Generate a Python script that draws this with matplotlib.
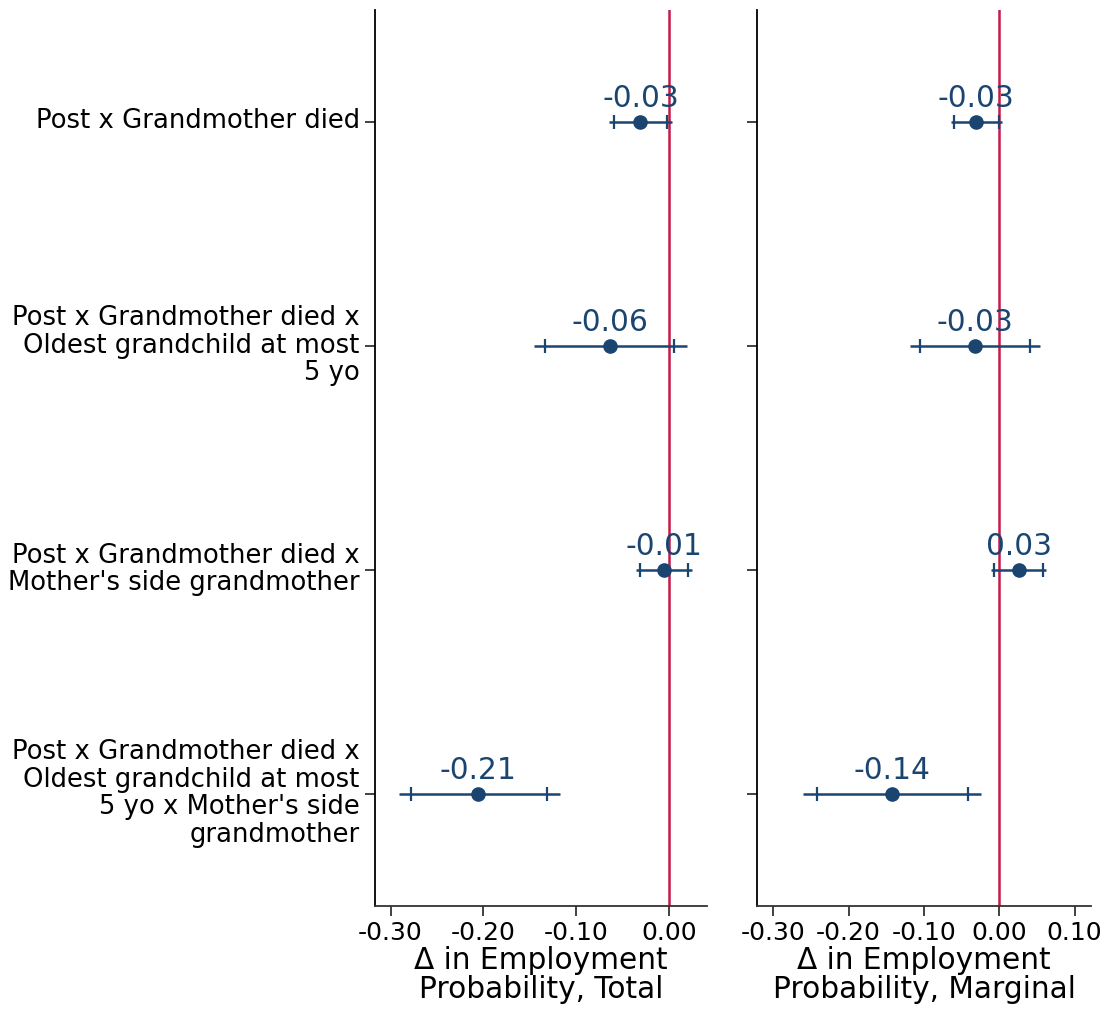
import matplotlib
matplotlib.use("Agg")
import matplotlib.pyplot as plt
from matplotlib.transforms import ScaledTranslation
import numpy as np

labels = [
    "Post x Grandmother died",
    "Post x Grandmother died x\nOldest grandchild at most\n5 yo",
    "Post x Grandmother died x\nMother's side grandmother",
    "Post x Grandmother died x\nOldest grandchild at most\n5 yo x Mother's side\ngrandmother",
]

# Total effect
total_coef = [-0.031, -0.0635, -0.006, -0.206]
total_lo95 = [-0.0645, -0.146, -0.0355, -0.291]
total_hi95 = [0.003, 0.0188, 0.024, -0.118]
total_lo90 = [-0.059, -0.1337, -0.0316, -0.278]
total_hi90 = [-0.0025, 0.0053, 0.0205, -0.132]
total_text = ["-0.03", "-0.06", "-0.01", "-0.21"]

# Marginal effect
marg_coef = [-0.031, -0.0318, 0.0256, -0.142]
marg_lo95 = [-0.064, -0.118, -0.011, -0.26]
marg_hi95 = [0.0035, 0.054, 0.0623, -0.0242]
marg_lo90 = [-0.0605, -0.1046, -0.0066, -0.2415]
marg_hi90 = [-0.001, 0.041, 0.058, -0.042]
marg_text = ["-0.03", "-0.03", "0.03", "-0.14"]

total_ticks = [-0.30, -0.20, -0.10, 0.00]
marg_ticks = [-0.30, -0.20, -0.10, 0.00, 0.10]

navy = "#1a4570"
red = "#c8194a"

fig = plt.figure(figsize=(11.09, 10.09), dpi=100)
ax1 = fig.add_axes([375 / 1109, 1 - 905.5 / 1009, (707 - 375) / 1109, (905.5 - 10) / 1009])
ax2 = fig.add_axes([757.3 / 1109, 1 - 905.5 / 1009, (1090.7 - 757.3) / 1109, (905.5 - 10) / 1009])

ypos = np.arange(1, len(labels) + 1)


def draw(ax, coef, lo95, hi95, lo90, hi90, texts, ticks, xlim):
    ax.axvline(0, color=red, lw=1.8, zorder=1)
    for y, c, l5, h5, l9, h9, t in zip(ypos, coef, lo95, hi95, lo90, hi90, texts):
        ax.plot([l5, h5], [y, y], color=navy, lw=1.8, zorder=2, solid_capstyle="butt")
        ax.plot([l9, h9], [y, y], ls="none", marker="|", ms=10, mew=1.6, color=navy, zorder=3)
        ax.plot([c], [y], marker="o", ms=9.5, color=navy, zorder=4)
        ax.annotate(t, (c, y), xytext=(0, 10.5), textcoords="offset points",
                    ha="center", va="baseline", fontsize=21.3, color=navy)
    ax.set_xlim(*xlim)
    ax.set_ylim(4.5, 0.5)
    ax.set_xticks(ticks)
    ax.set_xticklabels([f"{v:.2f}" for v in ticks], fontsize=18)
    ax.set_yticks(ypos)
    for s in ["top", "right"]:
        ax.spines[s].set_visible(False)
    ax.spines["left"].set_linewidth(1.3)
    ax.spines["left"].set_color("black")
    ax.spines["bottom"].set_linewidth(1.3)
    ax.spines["bottom"].set_color("#333333")
    ax.tick_params(axis="x", length=7, width=1.3, color="#333333", pad=4)
    ax.tick_params(axis="y", length=7, width=1.3, color="#333333", pad=4)


draw(ax1, total_coef, total_lo95, total_hi95, total_lo90, total_hi90, total_text,
     total_ticks, (-0.3168, 0.0406))
draw(ax2, marg_coef, marg_lo95, marg_hi95, marg_lo90, marg_hi90, marg_text,
     marg_ticks, (-0.3212, 0.1213))

ax1.set_yticklabels(labels, fontsize=18.6, linespacing=1.08)
shift = ScaledTranslation(0, 4 / 100, fig.dpi_scale_trans)
for lab in ax1.get_yticklabels():
    lab.set_transform(lab.get_transform() + shift)
ax2.set_yticklabels([])

ax1.set_xlabel("Δ in Employment\nProbability, Total", fontsize=21.3, linespacing=0.98, labelpad=1)
ax2.set_xlabel("Δ in Employment\nProbability, Marginal", fontsize=21.3, linespacing=0.98, labelpad=1)

fig.savefig("out.png", dpi=100)
